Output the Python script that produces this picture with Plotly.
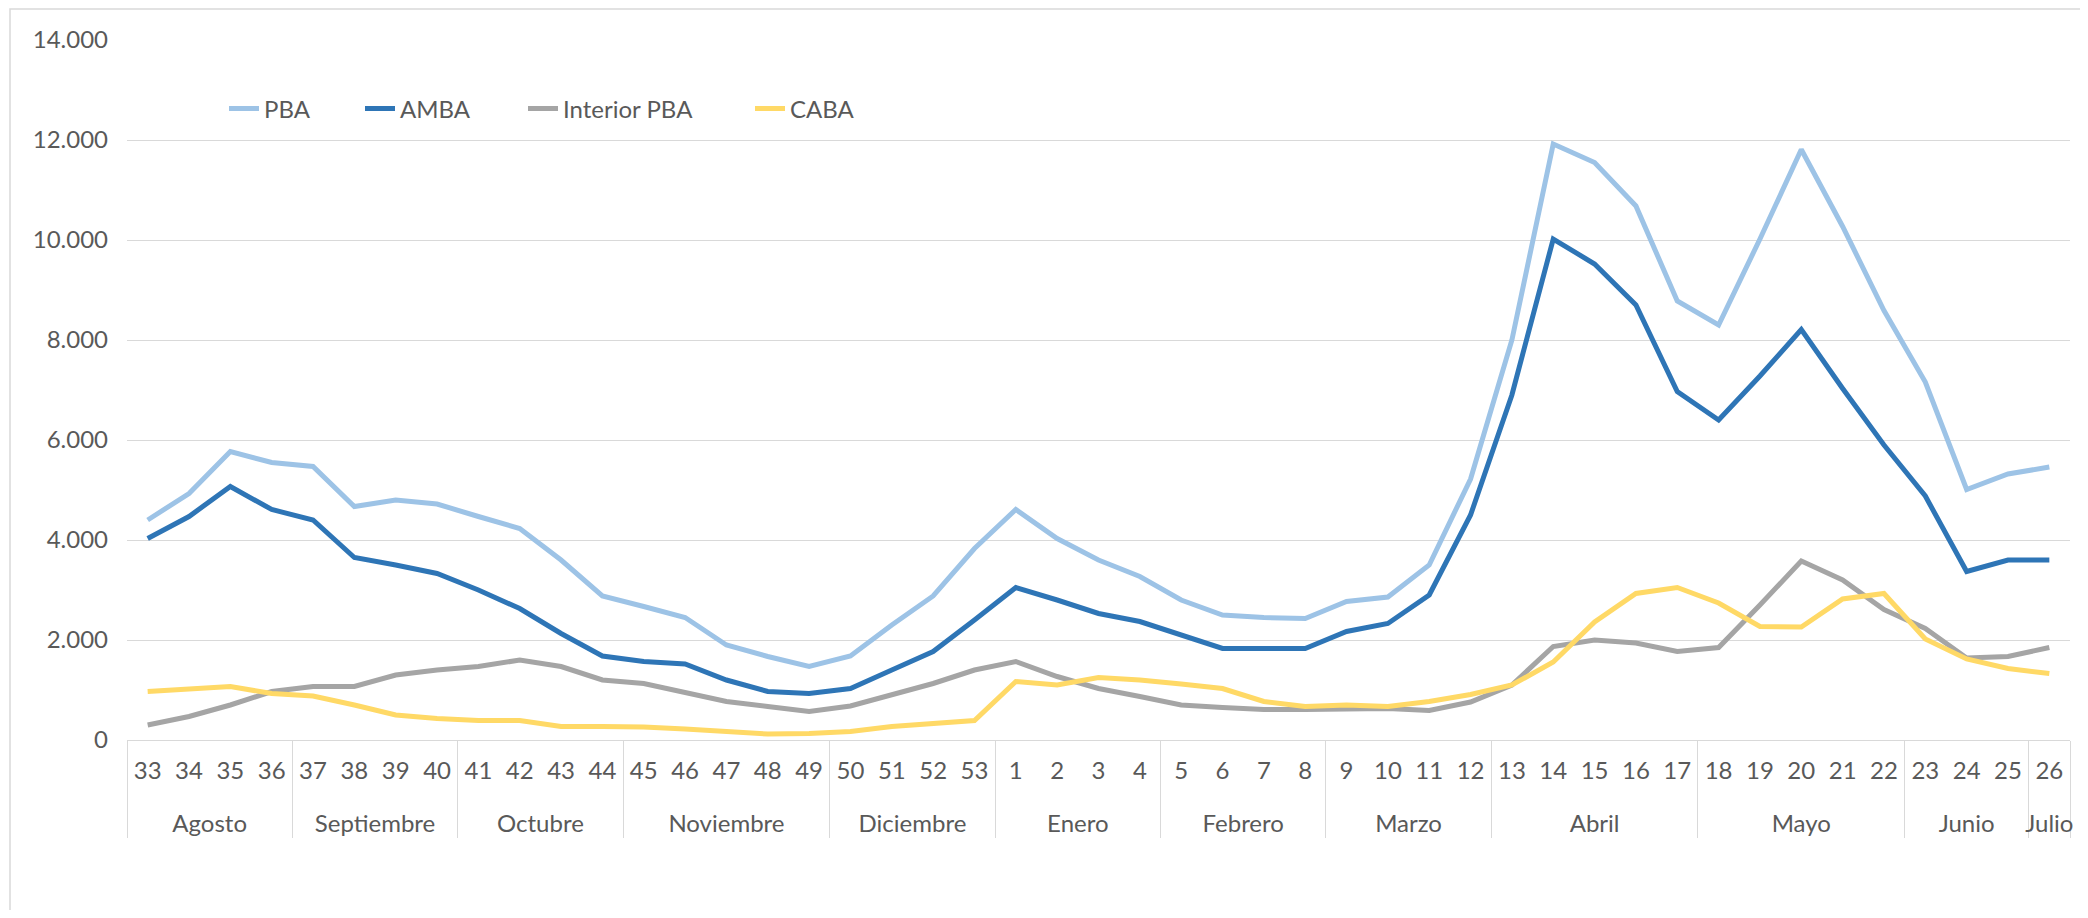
import plotly.graph_objects as go

# semanas epidemiologicas y meses
semanas = [str(s) for s in range(33, 54)] + [str(s) for s in range(1, 27)]
meses = (["Agosto"] * 4 + ["Septiembre"] * 4 + ["Octubre"] * 4 + ["Noviembre"] * 5
         + ["Diciembre"] * 4 + ["Enero"] * 4 + ["Febrero"] * 4 + ["Marzo"] * 4
         + ["Abril"] * 5 + ["Mayo"] * 5 + ["Junio"] * 3 + ["Julio"] * 1)

# casos por semana
pba = [4400, 4930, 5770, 5550, 5470, 4670, 4800, 4720, 4470, 4230, 3600, 2880, 2670, 2450,
       1900, 1670, 1470, 1680, 2300, 2880, 3830, 4610, 4030, 3600, 3270, 2800, 2500, 2450,
       2430, 2770, 2860, 3500, 5220, 8000, 11920, 11550, 10680, 8780, 8300, 10020, 11810,
       10270, 8590, 7160, 5010, 5320, 5460]
amba = [4030, 4470, 5070, 4610, 4400, 3650, 3500, 3330, 3000, 2630, 2130, 1680, 1570, 1520,
        1200, 970, 930, 1030, 1400, 1770, 2400, 3050, 2800, 2530, 2370, 2100, 1830, 1830,
        1830, 2170, 2330, 2900, 4500, 6900, 10020, 9520, 8700, 6970, 6400, 7280, 8210,
        7030, 5900, 4880, 3370, 3600, 3600]
interior = [300, 470, 700, 970, 1070, 1070, 1300, 1400, 1470, 1600, 1470, 1200, 1130, 950,
            770, 670, 570, 680, 900, 1130, 1400, 1570, 1270, 1030, 870, 700, 650, 610,
            610, 610, 630, 590, 760, 1100, 1870, 2000, 1940, 1770, 1850, 2700, 3580,
            3200, 2610, 2230, 1640, 1670, 1850]
caba = [970, 1030, 1070, 930, 880, 700, 500, 430, 390, 390, 270, 270, 260, 220,
        170, 120, 130, 170, 270, 320, 390, 1170, 1100, 1250, 1200, 1120, 1030, 770,
        670, 700, 670, 770, 910, 1100, 1560, 2360, 2930, 3050, 2740, 2270, 2260,
        2820, 2930, 2020, 1620, 1430, 1330]

series = [("PBA", pba, "#9DC3E6"), ("AMBA", amba, "#2E75B6"),
          ("Interior PBA", interior, "#A5A5A5"), ("CABA", caba, "#FFD966")]

fuente = "Lato, 'Open Sans', sans-serif"
gris = "#595959"
tam = 24

# la pagina deja 8px de margen, el grafico se achica para que entre
W, H = 2072, 902
L, R, T, B = 119, 10, 32, 170
pw = W - L - R
ph = H - T - B

# posicion (px) de cada entrada de la leyenda
leyenda_x = [216, 352, 515, 742]
leyenda_y = 101

# el <br> baja el nivel de meses, como en excel
etiquetas_mes = ["<br>" + m for m in meses]

fig = go.Figure()
layout_leyendas = {}
for k, (nombre, valores, color) in enumerate(series):
    ref = "legend" if k == 0 else f"legend{k + 1}"
    fig.add_trace(go.Scatter(x=[etiquetas_mes, semanas], y=valores, name=nombre, mode="lines",
                             line=dict(color=color, width=5), legend=ref))
    layout_leyendas[ref] = dict(x=(leyenda_x[k] - L) / pw, xanchor="left",
                                y=(H - leyenda_y - B) / ph, yanchor="middle",
                                font=dict(family=fuente, size=tam, color=gris),
                                bgcolor="rgba(0,0,0,0)")

fig.update_xaxes(type="multicategory", range=[-0.5, len(semanas) - 0.5],
                 showgrid=False, showline=True, linecolor="#D9D9D9",
                 linewidth=1, ticks="", showdividers=True, dividercolor="#D9D9D9",
                 dividerwidth=1, ticklabelstandoff=9,
                 tickfont=dict(family=fuente, size=tam, color=gris))
fig.update_yaxes(range=[0, 14000], dtick=2000, showgrid=True, gridcolor="#D9D9D9",
                 gridwidth=1, zeroline=False, showline=False, tickformat=",d",
                 ticks="", ticklabelstandoff=18,
                 tickfont=dict(family=fuente, size=tam, color=gris))

# borde del area del grafico
fig.add_shape(type="rect", xref="paper", yref="paper",
              x0=(2 - L) / pw, x1=(W + 20 - L) / pw,
              y0=(H - 940 - B) / ph, y1=(H - 1 - B) / ph,
              line=dict(color="#D9D9D9", width=1.5), layer="below")

fig.update_layout(
    width=W, height=H,
    margin=dict(l=L, r=R, t=T, b=B, autoexpand=False),
    plot_bgcolor="white", paper_bgcolor="white",
    separators=",.",
    font=dict(family=fuente, size=tam, color=gris),
    showlegend=True,
    **layout_leyendas,
)

fig.write_html("out.html")
